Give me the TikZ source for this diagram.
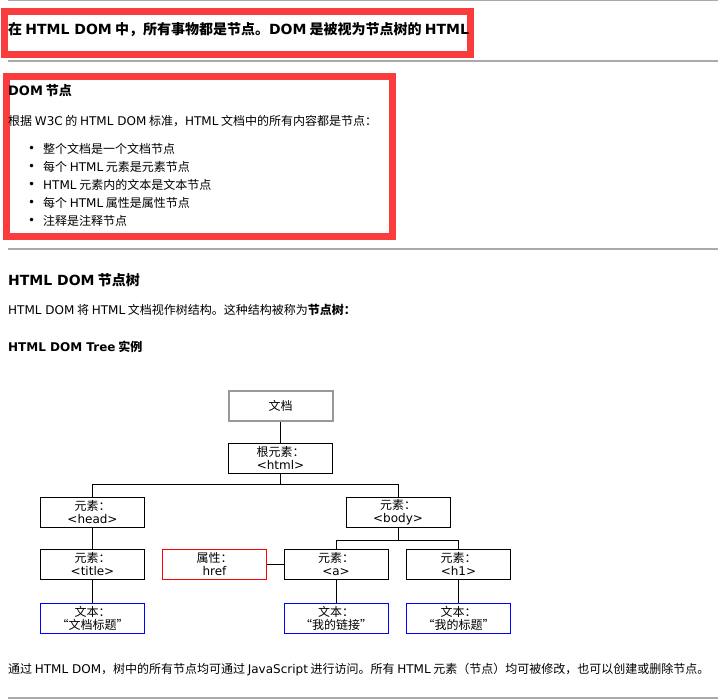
\documentclass[tikz,border=0pt]{standalone}
\usepackage{fontspec}
\setmainfont{Noto Sans CJK SC}
\newfontfamily\latinfont{DejaVu Sans}
\newcommand{\en}[1]{{\latinfont #1}}
\usetikzlibrary{positioning}
\definecolor{sepgray}{HTML}{AAAAAA}
\definecolor{markred}{HTML}{FA3C3C}
\definecolor{docgray}{HTML}{999999}

\begin{document}
\begin{tikzpicture}[
    % GLOBAL CFG
    x=1pt, y=-1pt,
    font=\fontsize{12}{13}\selectfont,
    % Styles
    sep/.style={% grey rules between the sections
        draw=sepgray,
        line width=2pt,
        },
    redframe/.style={% thick red highlight frames
        draw=markred,
        line width=7pt,
        },
    txt/.style={% plain page text
        anchor=west,
        inner sep=0pt,
        },
    hd/.style={% bold headings
        txt,
        font=\fontsize{14}{16}\selectfont\bfseries,
        },
    elem/.style={% tree boxes
        rectangle,
        draw,
        line width=1pt,
        minimum width=104pt,
        minimum height=30pt,
        inner sep=0pt,
        align=center,
        },
    docbox/.style={% the document box
        elem,
        draw=docgray,
        line width=2pt,
        },
    attrbox/.style={% attribute box
        elem,
        draw=red,
        },
    textbox/.style={% text boxes
        elem,
        draw=blue,
        },
    link/.style={% tree connectors
        line width=1pt,
        },
    ]
\useasboundingbox (0,0) rectangle (727,699);

    % Rules and frames
    \draw [sep, line width=1pt] (8,0.5) -- (718,0.5);
    \draw [redframe] (4.5,11.5) rectangle (470.5,54);
    \draw [sep] (8,61) -- (718,61);
    \draw [redframe] (6.5,76.5) rectangle (392.5,236);
    \draw [sep] (8,249) -- (718,249);
    \draw [sep, line width=1.5pt] (8,698) -- (718,698);

    % Page text
    \node [hd] (title) at (8,30) {在 \en{HTML DOM} 中，所有事物都是节点。\en{DOM} 是被视为节点树的 \en{HTML}};
    \node [hd, font=\fontsize{13}{15}\selectfont\bfseries] (h1) at (8,91) {\en{DOM} 节点};
    \node [txt] (p1) at (8,121) {根据 \en{W3C} 的 \en{HTML DOM} 标准，\en{HTML} 文档中的所有内容都是节点：};

    % List items named li#
    \node [txt] (b1) at (28,149) {\en{•}};
    \node [txt] (li1) at (43,149) {整个文档是一个文档节点};
    \node [txt] (b2) at (28,167) {\en{•}};
    \node [txt] (li2) at (43,167) {每个 \en{HTML} 元素是元素节点};
    \node [txt] (b3) at (28,185) {\en{•}};
    \node [txt] (li3) at (43,185) {\en{HTML} 元素内的文本是文本节点};
    \node [txt] (b4) at (28,203) {\en{•}};
    \node [txt] (li4) at (43,203) {每个 \en{HTML} 属性是属性节点};
    \node [txt] (b5) at (28,221) {\en{•}};
    \node [txt] (li5) at (43,221) {注释是注释节点};

    \node [hd] (h2) at (8,280) {\en{HTML DOM} 节点树};
    \node [txt] (p2) at (8,310) {\en{HTML DOM} 将 \en{HTML} 文档视作树结构。这种结构被称为{\bfseries 节点树：}};
    \node [hd, font=\fontsize{12}{14}\selectfont\bfseries] (h3) at (8,347) {\en{HTML DOM Tree} 实例};

    % Tree boxes
    \node [docbox] (doc) at (280.5,405.5) {文档};
    \node [elem] (root) at (280.5,458) {根元素：\\\en{<html>}};
    \node [elem] (ehead) at (92.5,512) {元素：\\\en{<head>}};
    \node [elem] (ebody) at (398,512) {元素：\\\en{<body>}};
    \node [elem] (etitle) at (92.5,564) {元素：\\\en{<title>}};
    \node [attrbox] (attr) at (214.5,564) {属性：\\\en{href}};
    \node [elem] (ea) at (336,564) {元素：\\\en{<a>}};
    \node [elem] (eh1) at (458.5,564) {元素：\\\en{<h1>}};
    \node [textbox] (t1) at (92.5,618) {文本：\\“文档标题”};
    \node [textbox] (t2) at (336,618) {文本：\\“我的链接”};
    \node [textbox] (t3) at (458.5,618) {文本：\\“我的标题”};

    % Connectors
    \draw [link] (doc) -- (root);
    \draw [link] (root.south) -- ++(0,11) coordinate (j1);
    \draw [link] (j1) -| (ehead.north);
    \draw [link] (j1) -| (ebody.north);
    \draw [link] (ehead) -- (etitle);
    \draw [link] (etitle) -- (t1);
    \draw [link] (ebody.south) -- ++(0,13) coordinate (j2);
    \draw [link] (j2) -| (ea.north);
    \draw [link] (j2) -| (eh1.north);
    \draw [link] (attr) -- (ea);
    \draw [link] (ea) -- (t2);
    \draw [link] (eh1) -- (t3);

    % Closing text
    \node [txt] (p3) at (8,670) {通过 \en{HTML DOM}，树中的所有节点均可通过 \en{JavaScript} 进行访问。所有 \en{HTML} 元素（节点）均可被修改，也可以创建或删除节点。};

\end{tikzpicture}
\end{document}
